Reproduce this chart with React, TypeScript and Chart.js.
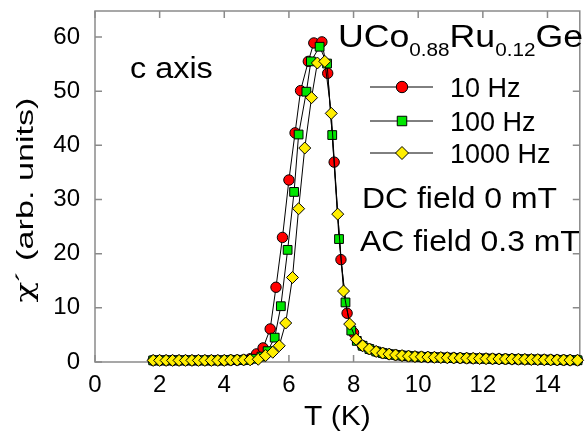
import React, { useEffect, useRef } from 'react';
import { Chart, registerables } from 'chart.js';

Chart.register(...registerables);

const FONT = "'Liberation Sans', Arial, sans-serif";

// shared low-temperature plateau (all three series coincide)
const lowT = [1.8, 2.0, 2.2, 2.4, 2.6, 2.8, 3.0, 3.2, 3.4, 3.6, 3.8, 4.0, 4.2, 4.4, 4.6];
const lowChi = [0.3, 0.3, 0.3, 0.3, 0.3, 0.3, 0.3, 0.3, 0.3, 0.3, 0.3, 0.3, 0.35, 0.35, 0.4];

// 10 Hz transition region
const t10 = [4.8, 5.0, 5.2, 5.42, 5.6, 5.8, 6.0, 6.19, 6.36, 6.6, 6.77, 7.02, 7.2, 7.4, 7.61, 7.8, 8.0];
const chi10 = [0.6, 1.5, 2.6, 6.1, 13.8, 23.0, 33.6, 42.3, 50.1, 55.5, 58.9, 59.1, 53.3, 36.9, 18.9, 9.0, 5.4];

// 100 Hz transition region
const t100 = [4.75, 4.95, 5.15, 5.34, 5.56, 5.75, 5.96, 6.16, 6.3, 6.54, 6.68, 6.95, 7.18, 7.34, 7.55, 7.75, 7.93, 8.1];
const chi100 = [0.4, 0.6, 1.0, 2.0, 4.5, 10.3, 20.7, 31.4, 42.0, 49.9, 55.5, 58.2, 55.1, 41.9, 22.7, 11.0, 5.8, 3.9];

// 1000 Hz transition region
const t1000 = [4.8, 5.05, 5.28, 5.5, 5.7, 5.9, 6.11, 6.3, 6.49, 6.7, 6.88, 7.11, 7.31, 7.51, 7.69, 7.88, 8.08];
const chi1000 = [0.4, 0.5, 1.2, 1.8, 3.0, 7.2, 15.6, 28.3, 39.5, 48.8, 55.2, 55.5, 45.9, 27.3, 13.1, 7.0, 4.2];

// shared high-temperature tail
const tailT = [8.28, 8.49, 8.7, 8.9, 9.1, 9.3, 9.5, 9.7, 9.9, 10.1, 10.3, 10.5, 10.7, 10.9, 11.1, 11.3, 11.5, 11.7, 11.9, 12.1, 12.3, 12.5, 12.7, 12.9, 13.1, 13.3, 13.5, 13.7, 13.9, 14.1, 14.3, 14.5, 14.7, 14.93];
const tailChi = [3.0, 2.4, 1.95, 1.65, 1.45, 1.3, 1.18, 1.08, 1.0, 0.95, 0.9, 0.86, 0.82, 0.79, 0.76, 0.73, 0.7, 0.67, 0.64, 0.62, 0.59, 0.57, 0.55, 0.53, 0.5, 0.48, 0.46, 0.44, 0.42, 0.4, 0.38, 0.36, 0.34, 0.32];

const seriesLabels = ['10 Hz', '100 Hz', '1000 Hz'];
const xTitle = 'T (K)';
const yTitleChi = 'χ';
const yTitleRest = '´ (arb. units)';
const xMax = 15;
const yMax = 64.8;
const xStep = 2;
const yStep = 10;

const pts = (ts: number[], cs: number[]) => ts.map((t, i) => ({ x: t, y: cs[i] }));

function drawText(ctx: CanvasRenderingContext2D, text: string, x: number, y: number, size: number, sx: number) {
  ctx.save();
  ctx.font = `${size}px ${FONT}`;
  ctx.fillStyle = '#000';
  ctx.textAlign = 'left';
  ctx.textBaseline = 'alphabetic';
  const w = ctx.measureText(text).width * sx;
  ctx.translate(x, y);
  ctx.scale(sx, 1);
  ctx.fillText(text, 0, 0);
  ctx.restore();
  return w;
}

function drawMarker(ctx: CanvasRenderingContext2D, style: string, x: number, y: number, r: number, fill: string) {
  ctx.save();
  ctx.fillStyle = fill;
  ctx.strokeStyle = '#000';
  ctx.lineWidth = 1;
  ctx.beginPath();
  if (style === 'circle') {
    ctx.arc(x, y, r, 0, Math.PI * 2);
  } else if (style === 'rect') {
    const s = r * Math.SQRT1_2;
    ctx.rect(x - s, y - s, 2 * s, 2 * s);
  } else {
    ctx.moveTo(x - r, y);
    ctx.lineTo(x, y - r);
    ctx.lineTo(x + r, y);
    ctx.lineTo(x, y + r);
    ctx.closePath();
  }
  ctx.fill();
  ctx.stroke();
  ctx.restore();
}

const zeroPad = (s: any) => {
  s.paddingLeft = 0;
  s.paddingRight = 0;
  s.paddingTop = 0;
  s.paddingBottom = 0;
};

export default function App() {
  const ref = useRef<HTMLCanvasElement | null>(null);

  useEffect(() => {
    if (!ref.current) return;
    const styles = [
      { label: seriesLabels[0], pointStyle: 'circle', r: 5.2, color: '#ff0000', data: pts([...lowT, ...t10, ...tailT], [...lowChi, ...chi10, ...tailChi]) },
      { label: seriesLabels[1], pointStyle: 'rect', r: 6.2, color: '#00e600', data: pts([...lowT, ...t100, ...tailT], [...lowChi, ...chi100, ...tailChi]) },
      { label: seriesLabels[2], pointStyle: 'rectRot', r: 6, color: '#ffee00', data: pts([...lowT, ...t1000, ...tailT], [...lowChi, ...chi1000, ...tailChi]) },
    ];

    const decor = {
      id: 'decor',
      beforeDatasetsDraw(chart: any) {
        const { ctx, chartArea: a, scales } = chart;
        const xs = scales.x, ys = scales.y;
        ctx.save();
        ctx.strokeStyle = '#8a8a8a';
        ctx.lineWidth = 1.5;
        ctx.strokeRect(a.left, a.top, a.right - a.left, a.bottom - a.top);
        const L = 7;
        ctx.beginPath();
        xs.ticks.forEach((t: any) => {
          const p = xs.getPixelForValue(t.value);
          ctx.moveTo(p, a.bottom); ctx.lineTo(p, a.bottom - L);
          ctx.moveTo(p, a.top); ctx.lineTo(p, a.top + L);
        });
        ys.ticks.forEach((t: any) => {
          const p = ys.getPixelForValue(t.value);
          ctx.moveTo(a.left, p); ctx.lineTo(a.left + L, p);
          ctx.moveTo(a.right, p); ctx.lineTo(a.right - L, p);
        });
        ctx.stroke();
        ctx.restore();
      },
      afterDraw(chart: any) {
        const { ctx } = chart;
        const ca = chart.chartArea;
        // x title
        ctx.save();
        ctx.font = `28px ${FONT}`;
        ctx.fillStyle = '#000';
        ctx.textAlign = 'center';
        ctx.textBaseline = 'alphabetic';
        ctx.translate((ca.left + ca.right) / 2, 425);
        ctx.scale(1.07, 1);
        ctx.fillText(xTitle, 0, 0);
        ctx.restore();

        // y title (rotated)
        ctx.save();
        ctx.fillStyle = '#000';
        ctx.textBaseline = 'alphabetic';
        ctx.textAlign = 'left';
        ctx.font = `24px 'DejaVu Serif', serif`;
        const wChi = ctx.measureText(yTitleChi).width;
        ctx.font = `24px ${FONT}`;
        const wRest = ctx.measureText(yTitleRest).width;
        const total = wChi + wRest;
        const sc = 205 / total;
        ctx.translate(33, 200);
        ctx.rotate(-Math.PI / 2);
        ctx.scale(sc, 1);
        ctx.font = `24px 'DejaVu Serif', serif`;
        ctx.fillText(yTitleChi, -total / 2, 0);
        ctx.font = `24px ${FONT}`;
        ctx.fillText(yTitleRest, -total / 2 + wChi, 0);
        ctx.restore();

        // annotations
        drawText(ctx, 'c axis', 130, 78, 30, 1.08);
        let x = 338;
        x += drawText(ctx, 'UCo', x, 47, 31, 1.15);
        x += drawText(ctx, '0.88', x, 56, 18, 1.15);
        x += drawText(ctx, 'Ru', x, 47, 31, 1.15);
        x += drawText(ctx, '0.12', x, 56, 18, 1.15);
        drawText(ctx, 'Ge', x, 47, 31, 1.15);

        // legend
        const rows = [87, 121, 153];
        styles.forEach((s, i) => {
          const y = rows[i];
          ctx.save();
          ctx.strokeStyle = '#000';
          ctx.lineWidth = 1;
          ctx.beginPath();
          ctx.moveTo(370, y); ctx.lineTo(433, y);
          ctx.stroke();
          ctx.restore();
          drawMarker(ctx, s.pointStyle, 402, y, s.r + 0.5, s.color);
          drawText(ctx, s.label, 450, y + 10, 27, 1.0);
        });

        drawText(ctx, 'DC field 0 mT', 362, 208, 29, 1.1);
        drawText(ctx, 'AC field 0.3 mT', 360, 251, 29, 1.1);
      },
    };

    const chart = new Chart(ref.current, {
      type: 'line',
      data: {
        datasets: styles.map((s, i) => ({
          label: s.label,
          data: s.data,
          borderColor: '#000',
          borderWidth: 1,
          pointStyle: s.pointStyle as any,
          pointRadius: s.r,
          pointBackgroundColor: s.color,
          pointBorderColor: '#000',
          pointBorderWidth: 1,
          tension: 0,
          fill: false,
          clip: false as any,
          order: 2 - i,
        })),
      },
      options: {
        responsive: false,
        maintainAspectRatio: false,
        animation: false,
        events: [],
        layout: { padding: { top: 11, right: 4, left: 0, bottom: 0 } },
        plugins: { legend: { display: false }, tooltip: { enabled: false } },
        scales: {
          x: {
            type: 'linear',
            min: 0,
            max: xMax,
            grid: { display: false, drawTicks: false },
            border: { display: false },
            ticks: { stepSize: xStep, includeBounds: false, padding: 9, color: '#000', font: { family: FONT, size: 24 } },
            afterBuildTicks: (s: any) => {
              s.min = 0; s.max = xMax;
              s.ticks = s.ticks.filter((t: any) => t.value % xStep === 0 && t.value <= xMax);
            },
            afterFit: (s: any) => { s.height = 73; zeroPad(s); },
          },
          y: {
            type: 'linear',
            min: 0,
            max: yMax,
            grid: { display: false, drawTicks: false },
            border: { display: false },
            ticks: { stepSize: yStep, includeBounds: false, padding: 15, color: '#000', font: { family: FONT, size: 24 } },
            afterBuildTicks: (s: any) => {
              s.min = 0; s.max = yMax;
              s.ticks = s.ticks.filter((t: any) => t.value % yStep === 0 && t.value <= yMax);
            },
            afterFit: (s: any) => { s.width = 95; zeroPad(s); },
          },
        },
      },
      plugins: [decor],
    } as any);

    return () => chart.destroy();
  }, []);

  return (
    <div style={{ position: 'absolute', left: 0, top: 0, width: 587, height: 435, background: '#fff' }}>
      <canvas ref={ref} width={587} height={435} style={{ display: 'block' }} />
    </div>
  );
}
